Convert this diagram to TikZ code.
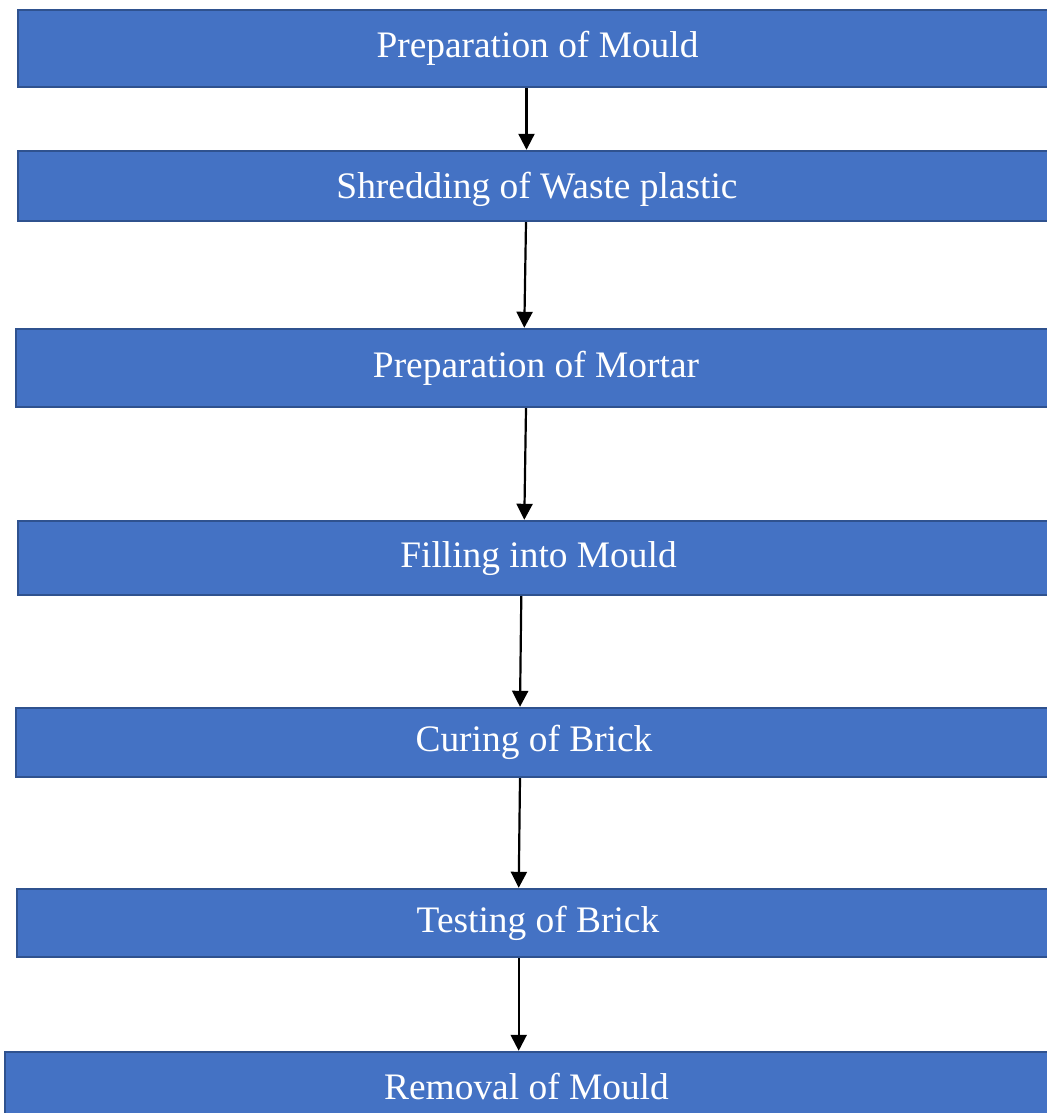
\documentclass[tikz,border=0pt]{standalone}
\usepackage{fontspec}
\setmainfont{Liberation Serif}
\usepackage{tikz}
\usetikzlibrary{arrows.meta,calc,positioning}
\definecolor{stagefill}{HTML}{4472C4}
\definecolor{stageline}{HTML}{2F528F}
\tikzset{
  stage/.style={draw=stageline, fill=stagefill, line width=1.2pt, inner sep=0pt,
    text=white, font=\fontsize{18.7}{22}\selectfont, text height=13pt, text depth=4pt},
  flow/.style={line width=1.1pt, -{Triangle[length=8pt,width=8pt]}}
}

\begin{document}
\begin{tikzpicture}[x=0.5pt,y=-0.5pt]
\useasboundingbox (0,0) rectangle (1047,1113);
\clip (0,0) rectangle (1047,1113);
\node[stage, minimum width=519.5pt, minimum height=38.5pt] (mould)   at (537.5,48.5) {Preparation of Mould};
\node[stage, minimum width=519pt,   minimum height=35pt]   (shred)   at (537,186)    {\raisebox{-1.5pt}{Shredding of Waste plastic}};
\node[stage, minimum width=520pt,   minimum height=39pt]   (mortar)  at (536,368)    {Preparation of Mortar};
\node[stage, minimum width=520.5pt, minimum height=37pt]   (fill)    at (538.5,558)  {Filling into Mould};
\node[stage, minimum width=518pt,   minimum height=34.5pt] (cure)    at (534,742.5)  {Curing of Brick};
\node[stage, minimum width=521pt,   minimum height=34pt]   (test)    at (538,923)    {Testing of Brick};
\node[stage, minimum width=521.5pt, minimum height=38pt]   (removal) at (526.5,1090) {Removal of Mould};
\draw[flow] ($(mould.south)+(-11,0)$)  -- ($(shred.north)+(-10.5,0)$);
\draw[flow] ($(shred.south)+(-11,0)$)  -- ($(mortar.north)+(-11.7,0)$);
\draw[flow] ($(mortar.south)+(-10,0)$) -- ($(fill.north)+(-14.2,0)$);
\draw[flow] ($(fill.south)+(-17.2,0)$) -- ($(cure.north)+(-14,0)$);
\draw[flow] ($(cure.south)+(-14,0)$)   -- ($(test.north)+(-19.3,0)$);
\draw[flow] ($(test.south)+(-19.3,0)$) -- ($(removal.north)+(-7.8,0)$);
\end{tikzpicture}
\end{document}
